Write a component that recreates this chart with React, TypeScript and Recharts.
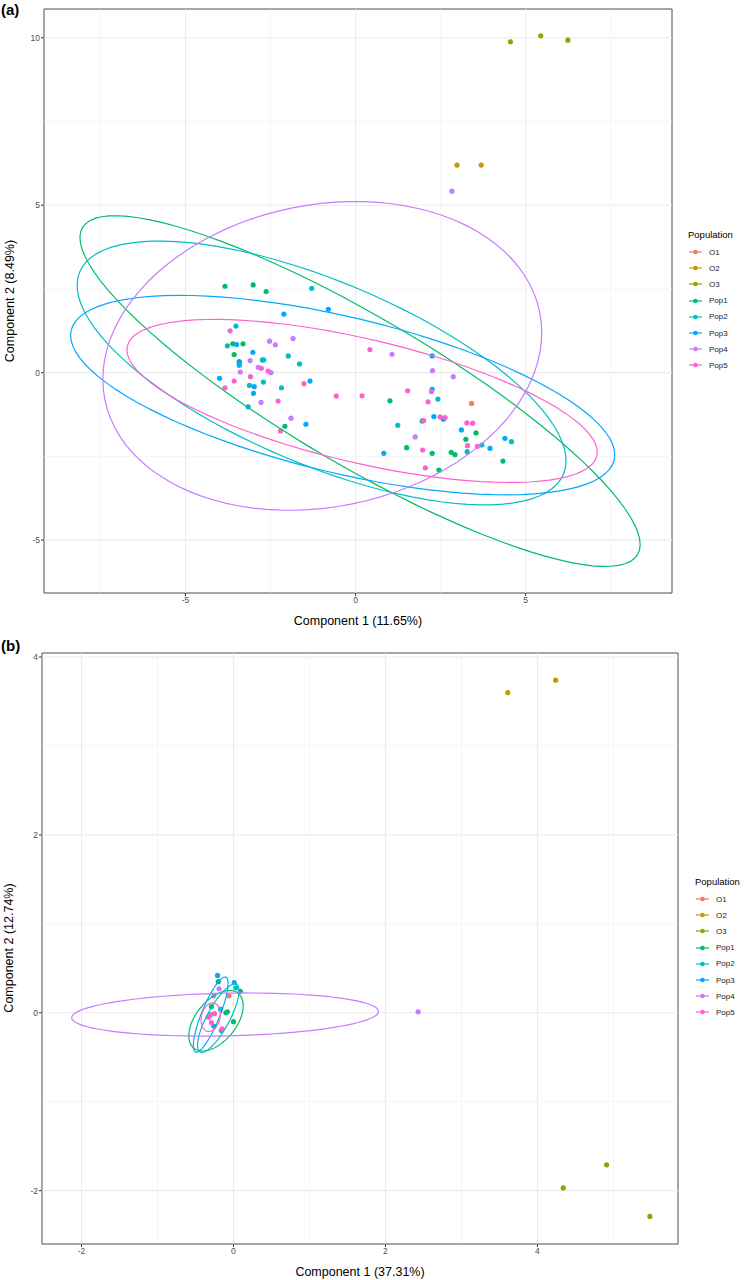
import React from 'react';
import { ScatterChart, Scatter, XAxis, YAxis, ReferenceLine, ReferenceArea } from 'recharts';

type Pt = [number, number];

const POPS = ['O1', 'O2', 'O3', 'Pop1', 'Pop2', 'Pop3', 'Pop4', 'Pop5'];
const COLORS = ['#F8766D', '#CD9600', '#7CAE00', '#00BE67', '#00BFC4', '#00A9FF', '#C77CFF', '#FF61CC'];

// ---------- Panel (a) ----------
const aO1: Pt[] = [[3.41, -0.92]];
const aO2: Pt[] = [[2.98, 6.2], [3.69, 6.2]];
const aO3: Pt[] = [[4.55, 9.88], [5.44, 10.06], [6.24, 9.93]];
const aPop1: Pt[] = [
  [-3.84, 2.58], [-3.01, 2.62], [-2.63, 2.42], [-3.61, 0.86], [-3.31, 0.86], [-3.57, 0.54], [-3.42, 0.33],
  [-2.08, -1.6], [1.01, -0.84], [1.96, -1.44], [3.54, -1.8], [3.24, -1.99], [1.5, -2.24], [2.25, -2.41],
  [2.81, -2.38], [2.92, -2.45], [4.33, -2.64], [2.45, -2.91],
];
const aPop2: Pt[] = [
  [-1.29, 2.52], [-3.52, 1.39], [-3.77, 0.8], [-2.74, 0.38], [-2.7, 0.38], [-1.98, 0.5], [-1.65, 0.26],
  [-2.71, -0.28], [-3.12, -0.38], [-2.18, -0.45], [-3.42, 0.22], [2.42, -0.79], [1.24, -1.57], [3.71, -2.16],
  [4.58, -2.06], [3.28, -2.36],
];
const aPop3: Pt[] = [
  [-2.11, 1.75], [-0.8, 1.89], [-3.5, 0.84], [-3.02, 0.61], [-3.42, 0.3], [-4.0, -0.17], [-2.98, -0.42],
  [-3.0, -0.62], [-3.16, -1.02], [-1.34, -0.25], [-1.46, -1.54], [2.25, 0.5], [2.25, -0.5], [2.3, -1.31],
  [2.58, -1.39], [3.11, -1.71], [3.95, -2.26], [4.39, -1.96], [0.83, -2.41],
];
const aPop4: Pt[] = [
  [-2.53, 0.94], [-2.36, 0.83], [-1.84, 1.02], [-3.1, 0.36], [-3.39, 0.02], [-2.86, 0.16], [-2.49, 0.0],
  [-2.78, -0.89], [-1.9, -1.36], [1.07, 0.55], [2.26, 0.06], [2.87, -0.12], [1.75, -1.92], [2.83, 5.42],
];
const aPop5: Pt[] = [
  [-3.69, 1.25], [-2.77, 0.13], [-2.57, 0.05], [-3.57, -0.25], [-3.84, -0.45], [-3.09, -0.12], [-2.28, -0.85],
  [-1.52, -0.33], [-0.57, -0.7], [-2.21, -1.74], [0.42, 0.69], [0.19, -0.69], [1.53, -0.54], [2.23, -0.56],
  [2.13, -0.87], [2.0, -1.43], [2.48, -1.32], [2.63, -1.34], [3.27, -1.5], [3.44, -1.51], [3.29, -2.18],
  [3.58, -2.2], [1.97, -2.31], [2.05, -2.84],
];
const aPoints: Pt[][] = [aO1, aO2, aO3, aPop1, aPop2, aPop3, aPop4, aPop5];

// ellipse: [centre x, centre y, semi-axis 1 (x, y), semi-axis 2 (x, y)]
const aEllPop1 = [0.13, -0.55, 8.16, -4.88, 1.1, 1.9];
const aEllPop2 = [-1.0, -0.01, 7.11, -3.02, 1.04, 2.53];
const aEllPop3 = [-0.38, -0.67, 7.98, -1.94, 0.54, 2.26];
const aEllPop4 = [-0.98, 0.5, 6.39, 1.31, 0.88, -4.42];
const aEllPop5 = [0.19, -0.845, 6.9, -1.64, 0.415, 1.8];
const aEllipses = [null, null, null, aEllPop1, aEllPop2, aEllPop3, aEllPop4, aEllPop5];

const aXTicks = [-5, 0, 5];
const aYTicks = [-5, 0, 5, 10];
const aXMinor = [-7.5, -2.5, 2.5, 7.5];
const aYMinor = [-2.5, 2.5, 7.5];

// ---------- Panel (b) ----------
const bO1: Pt[] = [[-0.06, 0.19]];
const bO2: Pt[] = [[3.61, 3.6], [4.24, 3.74]];
const bO3: Pt[] = [[4.34, -1.97], [4.91, -1.71], [5.48, -2.29]];
const bPop1: Pt[] = [[-0.2, 0.35], [0.09, 0.24], [-0.29, 0.07], [-0.1, 0.0], [-0.08, 0.01], [0.0, -0.1]];
const bPop2: Pt[] = [[0.03, 0.28], [-0.17, 0.04], [-0.26, -0.15], [-0.16, -0.2], [-0.3, -0.02]];
const bPop3: Pt[] = [[-0.21, 0.42], [0.01, 0.34]];
const bPop4: Pt[] = [[-0.19, 0.27], [-0.26, 0.19], [2.43, 0.01]];
const bPop5: Pt[] = [[-0.25, -0.01], [-0.33, -0.05], [-0.31, -0.03], [-0.29, -0.11], [-0.15, -0.18]];
const bPoints: Pt[][] = [bO1, bO2, bO3, bPop1, bPop2, bPop3, bPop4, bPop5];

const bEllPop1 = [-0.23, -0.09, 0.29, 0.31, 0.21, -0.14];
const bEllPop2 = [-0.2, -0.06, 0.24, 0.38, 0.13, -0.06];
const bEllPop3 = [-0.3, -0.02, 0.2, 0.42, 0.11, -0.04];
const bEllPop4 = [-0.11, -0.02, 2.02, 0.035, 0.0, 0.24];
const bEllPop5 = [-0.3, -0.05, 0.04, 0.16, 0.12, -0.02];
const bEllipses = [null, null, null, bEllPop1, bEllPop2, bEllPop3, bEllPop4, bEllPop5];

const bXTicks = [-2, 0, 2, 4];
const bYTicks = [-2, 0, 2, 4];
const bXMinor = [-1, 1, 3, 5];
const bYMinor = [-1, 1, 3];

const FONT = '"Liberation Sans", Arial, Helvetica, sans-serif';

function ellipsePoints(e: number[]) {
  const pts: { x: number; y: number }[] = [];
  const n = 96;
  for (let i = 0; i <= n; i++) {
    const t = (i / n) * 2 * Math.PI;
    pts.push({ x: e[0] + e[2] * Math.cos(t) + e[4] * Math.sin(t), y: e[1] + e[3] * Math.cos(t) + e[5] * Math.sin(t) });
  }
  return pts;
}

const dot = (color: string) => (props: any) => {
  const { cx, cy } = props;
  if (cx == null || cy == null) return <g />;
  return <circle cx={cx} cy={cy} r={2.6} fill={color} />;
};
const noShape = () => <g />;

interface PanelProps {
  points: Pt[][];
  ellipses: (number[] | null)[];
  xDomain: [number, number];
  yDomain: [number, number];
  xTicks: number[];
  yTicks: number[];
  xMinor: number[];
  yMinor: number[];
  margin: { top: number; right: number; bottom: number; left: number };
  yAxisWidth: number;
}

function Panel(p: PanelProps) {
  const tickStyle = { fontSize: 8.5, fill: '#4D4D4D', fontFamily: FONT };
  return (
    <ScatterChart width={746} height={640} margin={p.margin}>
      <XAxis
        type="number"
        dataKey="x"
        domain={p.xDomain}
        ticks={p.xTicks}
        interval={0}
        allowDataOverflow
        axisLine={false}
        tickLine={{ stroke: '#333333' }}
        tickSize={3}
        tickMargin={1}
        tick={tickStyle}
        height={20}
      />
      <YAxis
        type="number"
        dataKey="y"
        domain={p.yDomain}
        ticks={p.yTicks}
        interval={0}
        allowDataOverflow
        axisLine={false}
        tickLine={{ stroke: '#333333' }}
        tickSize={3}
        tickMargin={1}
        tick={tickStyle}
        width={p.yAxisWidth}
      />
      {p.xMinor.map((v) => (
        <ReferenceLine key={'xm' + v} x={v} stroke="#F0F0F0" strokeWidth={0.6} />
      ))}
      {p.yMinor.map((v) => (
        <ReferenceLine key={'ym' + v} y={v} stroke="#F0F0F0" strokeWidth={0.6} />
      ))}
      {p.xTicks.map((v) => (
        <ReferenceLine key={'xM' + v} x={v} stroke="#EBEBEB" strokeWidth={1.1} />
      ))}
      {p.yTicks.map((v) => (
        <ReferenceLine key={'yM' + v} y={v} stroke="#EBEBEB" strokeWidth={1.1} />
      ))}
      <ReferenceArea
        x1={p.xDomain[0]}
        x2={p.xDomain[1]}
        y1={p.yDomain[0]}
        y2={p.yDomain[1]}
        fill="none"
        fillOpacity={0}
        stroke="#4D4D4D"
        strokeWidth={1}
      />
      {p.points.map((pts, i) => (
        <Scatter
          key={'p' + i}
          name={POPS[i]}
          data={pts.map(([x, y]) => ({ x, y }))}
          shape={dot(COLORS[i])}
          isAnimationActive={false}
        />
      ))}
      {p.ellipses.map((e, i) =>
        e ? (
          <Scatter
            key={'e' + i}
            data={ellipsePoints(e)}
            line={{ stroke: COLORS[i], strokeWidth: 1.2, fill: 'none' }}
            lineType="joint"
            shape={noShape}
            isAnimationActive={false}
          />
        ) : null
      )}
    </ScatterChart>
  );
}

function Legend({ top, titleX, keyX, textX }: { top: number; titleX: number; keyX: number; textX: number }) {
  return (
    <>
      <div style={{ position: 'absolute', left: titleX, top: top - 6, fontSize: 9.5, lineHeight: '12px', color: '#000' }}>
        Population
      </div>
      {POPS.map((name, i) => {
        const cy = top + 17 + i * 16.2;
        return (
          <React.Fragment key={name}>
            <svg style={{ position: 'absolute', left: keyX, top: cy - 5 }} width={14} height={10}>
              <line x1={0} y1={5} x2={13} y2={5} stroke={COLORS[i]} strokeWidth={1.2} />
              <circle cx={6.5} cy={5} r={2.3} fill={COLORS[i]} />
            </svg>
            <div style={{ position: 'absolute', left: textX, top: cy - 5.5, fontSize: 8, lineHeight: '11px', color: '#1a1a1a' }}>
              {name}
            </div>
          </React.Fragment>
        );
      })}
    </>
  );
}

export default function App() {
  return (
    <div style={{ position: 'absolute', left: 0, top: 0, width: 746, height: 1280, background: '#fff', fontFamily: FONT, overflow: 'hidden' }}>
      <div style={{ position: 'absolute', left: 0, top: 0 }}>
        <Panel
          points={aPoints}
          ellipses={aEllipses}
          xDomain={[-9.16, 9.3]}
          yDomain={[-6.58, 10.86]}
          xTicks={aXTicks}
          yTicks={aYTicks}
          xMinor={aXMinor}
          yMinor={aYMinor}
          margin={{ top: 9, right: 74, bottom: 27, left: 0 }}
          yAxisWidth={44}
        />
      </div>
      <div style={{ position: 'absolute', left: 0, top: 640 }}>
        <Panel
          points={bPoints}
          ellipses={bEllipses}
          xDomain={[-2.52, 5.85]}
          yDomain={[-2.6, 4.045]}
          xTicks={bXTicks}
          yTicks={bYTicks}
          xMinor={bXMinor}
          yMinor={bYMinor}
          margin={{ top: 13, right: 68, bottom: 16, left: 0 }}
          yAxisWidth={42}
        />
      </div>

      <div style={{ position: 'absolute', left: 1, top: 1, fontSize: 15, fontWeight: 'bold', lineHeight: '18px' }}>(a)</div>
      <div style={{ position: 'absolute', left: 1, top: 637, fontSize: 15, fontWeight: 'bold', lineHeight: '18px' }}>(b)</div>

      <div style={{ position: 'absolute', left: 44, width: 628, top: 613, textAlign: 'center', fontSize: 12.5, lineHeight: '16px' }}>
        Component 1 (11.65%)
      </div>
      <div style={{ position: 'absolute', left: 42, width: 636, top: 1264, textAlign: 'center', fontSize: 12.5, lineHeight: '16px' }}>
        Component 1 (37.31%)
      </div>
      <div style={{ position: 'absolute', left: 10 - 150, top: 301 - 8, width: 300, textAlign: 'center', fontSize: 12.5, lineHeight: '16px', transform: 'rotate(-90deg)' }}>
        Component 2 (8.49%)
      </div>
      <div style={{ position: 'absolute', left: 9 - 150, top: 948 - 8, width: 300, textAlign: 'center', fontSize: 12.5, lineHeight: '16px', transform: 'rotate(-90deg)' }}>
        Component 2 (12.74%)
      </div>

      <Legend top={235} titleX={688} keyX={689} textX={709} />
      <Legend top={882} titleX={695} keyX={696} textX={716} />
    </div>
  );
}
